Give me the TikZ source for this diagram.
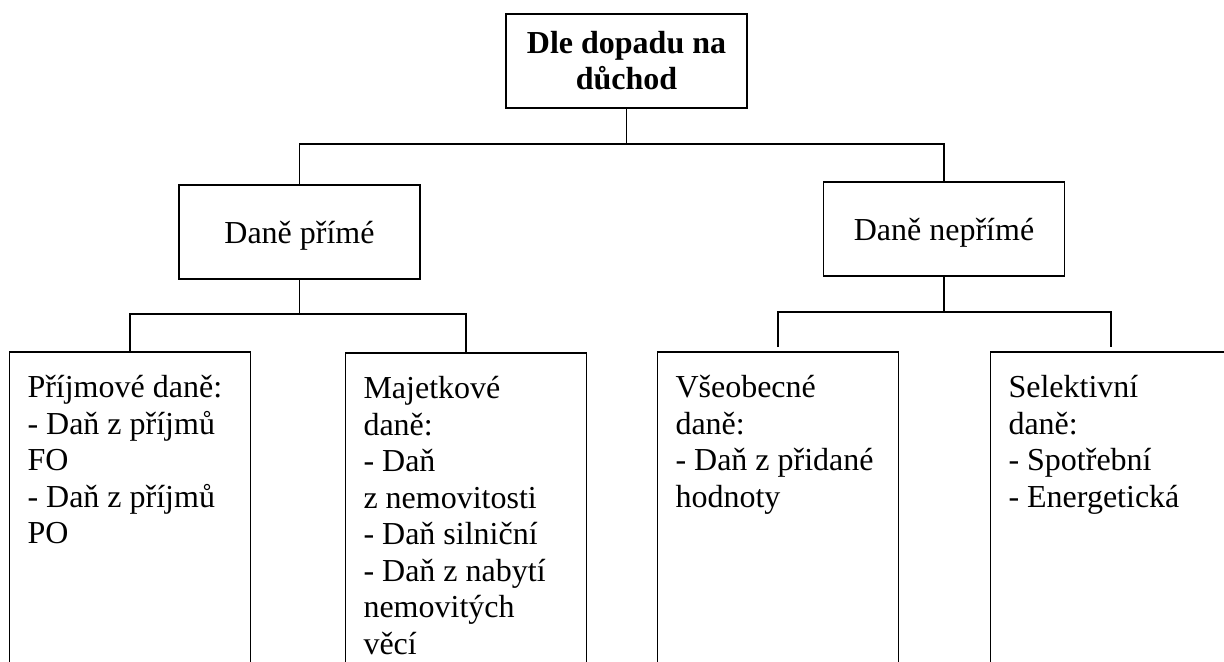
\documentclass[tikz,border=0pt]{standalone}
\usepackage{fontspec}
\setmainfont{Liberation Serif}
\newcommand\myTopStrut{\rule{0pt}{15pt}}
\begin{document}
\begin{tikzpicture}[x=0.5pt,y=-0.5pt,line width=0.8pt,
  box/.style={draw, rectangle, inner sep=0pt, minimum width=120.5pt, minimum height=47pt,
    font=\fontsize{16}{18.25}\selectfont},
  onebox/.style={box, text height=12pt, text depth=0pt},
  tallbox/.style={draw, rectangle, inner sep=0pt, anchor=north, minimum width=120.5pt, minimum height=175pt},
  btext/.style={anchor=north west, inner sep=0pt, align=left, font=\fontsize{16}{18.25}\selectfont},
  conn/.style={line width=0.9pt}]
\useasboundingbox (0,0) rectangle (1224,662);
\clip (0,0) rectangle (1224,662);
% level 0
\node[box, align=center, font=\bfseries\fontsize{16}{18}\selectfont] (top) at (626.5,61) {Dle dopadu na\\důchod};
% level 1
\node[onebox] (dp) at (299.5,232) {Daně přímé};
\node[onebox] (dn) at (944,229) {Daně nepřímé};
% level 2 boxes (cut off at the bottom)
\node[tallbox] (b1) at (130,351) {};
\node[tallbox] (b2) at (466,352) {};
\node[tallbox] (b3) at (778,351) {};
\node[tallbox] (b4) at (1111,351) {};
% texts
\node[btext] (t1) at ([xshift=9pt,yshift=-8pt]b1.north west) {\myTopStrut Příjmové daně:\\- Daň z příjmů\\FO\\- Daň z příjmů\\PO};
\node[btext] (t2) at ([xshift=9pt,yshift=-8pt]b2.north west) {\myTopStrut Majetkové\\daně:\\- Daň\\z~nemovitosti\\- Daň silniční\\- Daň z nabytí\\nemovitých\\věcí};
\node[btext] (t3) at ([xshift=9pt,yshift=-8pt]b3.north west) {\myTopStrut Všeobecné\\daně:\\- Daň z přidané\\hodnoty};
\node[btext] (t4) at ([xshift=9pt,yshift=-8pt]b4.north west) {\myTopStrut Selektivní\\daně:\\- Spotřební\\- Energetická};
% connectors
\coordinate (j0) at (626.5,144);
\coordinate (j1) at (299.5,314);
\coordinate (j2) at (944,312);
\draw[conn] (top.south) -- (j0);
\draw[conn] (dp.north) |- (j0) -| (dn.north);
\draw[conn] (dp.south) -- (j1);
\draw[conn] (b1.north) |- (j1) -| (b2.north);
\draw[conn] (dn.south) -- (j2);
\draw[conn, shorten <=2pt, shorten >=2pt] (b3.north) |- (j2) -| (b4.north);
\end{tikzpicture}
\end{document}
